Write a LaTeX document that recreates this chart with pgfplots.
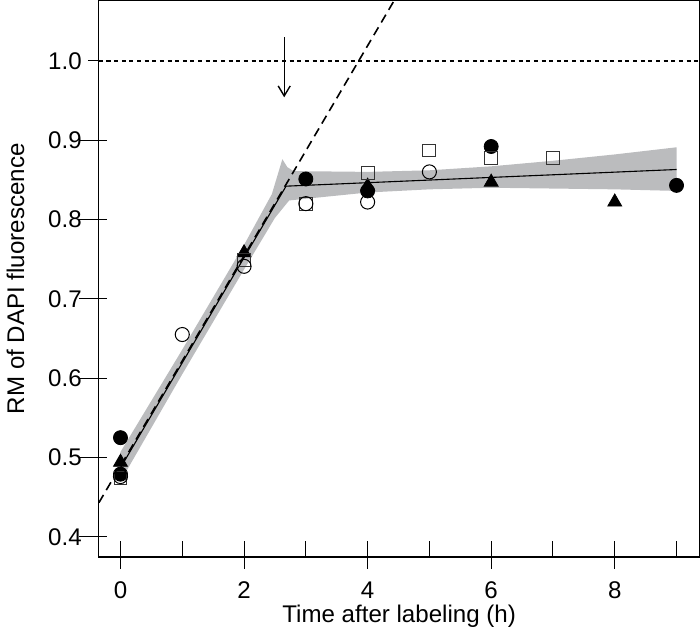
\documentclass[border=0pt]{standalone}
\usepackage{fontspec}
\setmainfont{Liberation Sans}
\usepackage{pgfplots}
\pgfplotsset{compat=1.18}
\usetikzlibrary{arrows.meta}
\definecolor{bandgray}{RGB}{187,188,190}

\begin{document}
\begin{tikzpicture}
\begin{axis}[
  scale only axis,
  width=299pt, height=277pt,
  xmin=-0.35, xmax=9.37,
  ymin=0.3747, ymax=1.0759,
  xtick={0,2,4,6,8},
  minor xtick={1,3,5,7,9},
  ytick={0.4,0.5,0.6,0.7,0.8,0.9,1.0},
  xtick pos=lower, ytick pos=left,
  tick align=center,
  major tick length=14pt, minor tick length=8pt,
  major x tick style={yshift=1pt},
  minor x tick style={yshift=4pt},
  y tick style={xshift=-2.75pt, shorten <=4.25pt, shorten >=4.25pt},
  every tick/.append style={black, line width=0.5pt},
  axis line style={line width=0.6pt},
  /pgf/number format/assume math mode=true,
  yticklabel style={xshift=2pt, /pgf/number format/.cd, fixed, fixed zerofill, precision=1},
  xticklabel style={yshift=-2pt},
  ticklabel style={font=\fontsize{12}{14}\selectfont},
  label style={font=\fontsize{12}{14}\selectfont},
  xlabel={Time after labeling (h)},
  ylabel={RM of DAPI fluorescence},
  ylabel shift=5pt,
  xlabel shift=-4pt,
  clip=true,
]
% confidence band
\addplot[fill=bandgray, draw=none] coordinates {
  (0,0.507) (1,0.636) (2,0.768) (2.45,0.832) (2.62,0.876) (2.70,0.866)
  (2.80,0.861) (4,0.860) (5,0.862) (6,0.867) (7,0.874) (8,0.882) (9,0.891)
  (9,0.836) (8,0.838) (7,0.839) (6,0.840) (5,0.838) (4,0.834) (2.73,0.824)
  (2.5,0.802) (2,0.737) (1,0.605) (0,0.470)} -- cycle;
% reference level
\addplot[black, line width=1pt, dash pattern=on 2pt off 1.8pt] coordinates {(-0.35,1.0) (9.37,1.0)};
% extrapolation
\addplot[black, line width=0.8pt, dash pattern=on 4.5pt off 2.8pt] coordinates {(-0.35,0.443) (4.43,1.076)};
% piecewise fit
\addplot[black, line width=0.55pt] coordinates {(0,0.487) (2.68,0.842) (9,0.863)};
% data
\addplot[only marks, mark=*, mark size=3.5pt, black] coordinates {
  (0,0.525) (0,0.479) (3,0.851) (4,0.836) (6,0.892) (9,0.843)};
\addplot[only marks, mark=triangle*, mark size=4pt, black] coordinates {
  (0,0.494) (2,0.758) (4,0.842) (6,0.847) (8,0.822)};
\addplot[only marks, mark=square, mark size=3.2pt, black!80, mark options={line width=0.5pt}] coordinates {
  (0,0.474) (2,0.749) (3,0.820) (4,0.859) (5,0.887) (6,0.878) (7,0.877)};
\addplot[only marks, mark=o, mark size=3.5pt, black, mark options={line width=0.5pt}] coordinates {
  (0,0.476) (1,0.655) (2,0.741) (3,0.820) (4,0.822) (5,0.860)};
% arrow
\draw[line width=0.7pt, -{Straight Barb[length=5pt, width=6pt]}] (axis cs:2.65,1.030) -- (axis cs:2.65,0.954);
\end{axis}
\end{tikzpicture}
\end{document}
